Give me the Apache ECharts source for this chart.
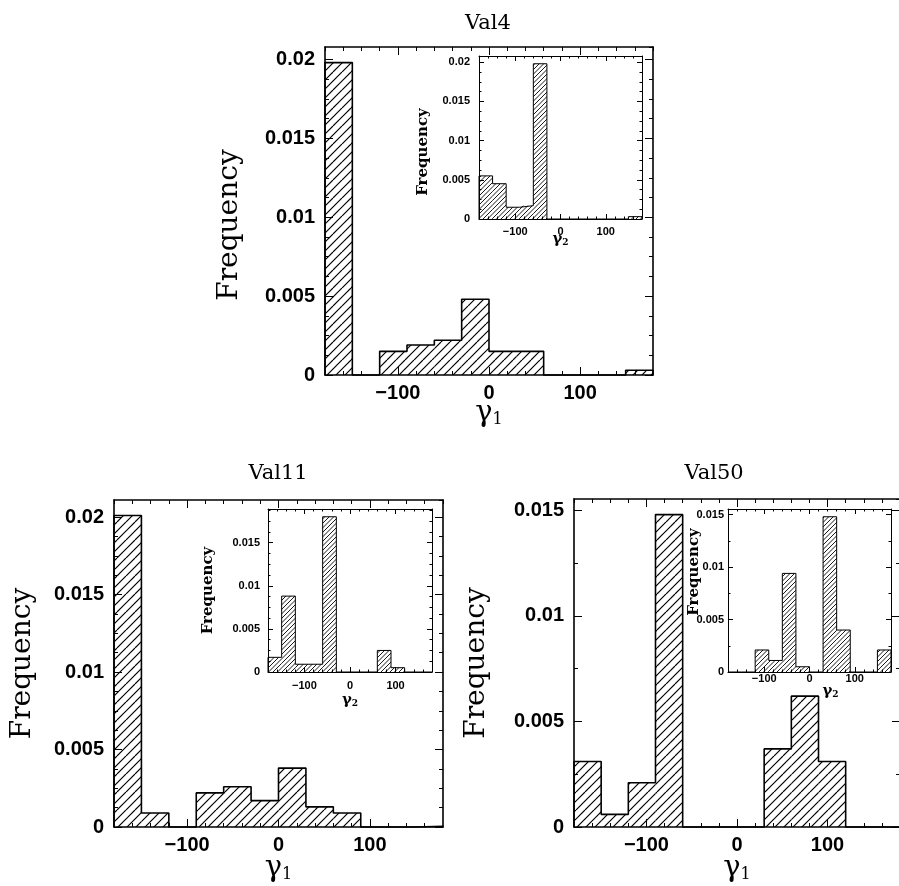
<!DOCTYPE html>
<html>
<head>
<meta charset="utf-8">
<script src="https://cdn.jsdelivr.net/npm/echarts@6/dist/echarts.min.js"></script>
<style>
  html, body { margin: 0; padding: 0; background: #fff; }
  #chart { width: 899px; height: 886px; }
</style>
</head>
<body>
<div id="chart"></div>
<script>
// 30 degree bins over the dihedral range
const binEdges = [-180, -150, -120, -90, -60, -30, 0, 30, 60, 90, 120, 150, 180];

// frequency per bin
const val4Gamma1 = [0.0198, 0, 0.0015, 0.0019, 0.0022, 0.0048, 0.0015, 0.0015, 0, 0, 0, 0.0003];
const val4Gamma2 = [0.0055, 0.0045, 0.0015, 0.0017, 0.0198, 0, 0, 0, 0, 0, 0, 0.0003];
const val11Gamma1 = [0.0201, 0.0009, 0, 0.0022, 0.0026, 0.0017, 0.0038, 0.0013, 0.0009, 0, 0, 0.00005];
const val11Gamma2 = [0.0017, 0.0088, 0.0009, 0.0009, 0.018, 0, 0, 0, 0.0025, 0.0005, 0, 0];
const val50Gamma1 = [0.0031, 0.0006, 0.0021, 0.0148, 0, 0, 0, 0.0037, 0.0062, 0.0031, 0, 0];
const val50Gamma2 = [0, 0, 0.0021, 0.0011, 0.0094, 0.0005, 0, 0.0148, 0.004, 0, 0, 0.0021];

const panelTitles = ['Val4', 'Val11', 'Val50'];
const xTickValues = [-100, 0, 100];
const yTickValues = [0, 0.005, 0.01, 0.015, 0.02];

// layout of the six plot boxes (3 main + 3 insets)
const panels = [
  { data: val4Gamma1, grid: [325, 47, 328, 328], main: true, yMinor: 0.00125,
    xGap: 24, yGap: 81, yPad: [0, 28, 0, 0], xPad: 0, xMargin: 8, yMargin: 10 },
  { data: val4Gamma2, grid: [479, 56, 163, 163], main: false, yMinor: 0.00125,
    xGap: 13, yGap: 48, yPad: [0, 29, 0, 0], xPad: 0, xMargin: 7, yMargin: 9 },
  { data: val11Gamma1, grid: [114, 500, 329, 327], main: true, yMinor: 0.00125,
    xGap: 27, yGap: 77, yPad: 0, xPad: 0, xMargin: 8, yMargin: 10 },
  { data: val11Gamma2, grid: [268, 509, 164, 163], main: false, yMinor: 0.00125,
    xGap: 21, yGap: 52, yPad: 0, xPad: 0, xMargin: 8, yMargin: 8 },
  { data: val50Gamma1, grid: [574, 499, 326, 328], main: true, yMinor: 0.0025,
    xGap: 27, yGap: 83, yPad: 0, xPad: 0, xMargin: 8, yMargin: 10 },
  { data: val50Gamma2, grid: [728, 509, 163, 163], main: false, yMinor: 0.0025,
    xGap: 12, yGap: 26, yPad: [0, 0, 0, 37], xPad: [0, 0, 0, 42], xMargin: 1, yMargin: 4 }
];
const titlePos = [[488, 24], [278, 474], [714, 474]];

function hatch(step, lw) {
  const t = step * 2;
  const c = document.createElement('canvas');
  c.width = c.height = t;
  const ctx = c.getContext('2d');
  ctx.strokeStyle = '#000';
  ctx.lineWidth = lw;
  ctx.beginPath();
  for (let k = 0; k <= 2 * t + 0.01; k += step) {
    ctx.moveTo(k, 0);
    ctx.lineTo(k - t, t);
  }
  ctx.stroke();
  return c;
}
const hatchMain = hatch(9, 1.2);
const hatchInset = hatch(4.5, 0.9);

function fmtX(v) { return v < 0 ? '\u2212' + (-v) : String(v); }
function fmtY(v) { return v === 0 ? '0' : String(parseFloat(v.toFixed(4))); }

const grids = [], xAxes = [], yAxes = [], series = [];

panels.forEach((p, i) => {
  const [l, t, w, h] = p.grid;
  grids.push({ left: l, top: t, width: w, height: h, containLabel: false, outerBoundsMode: 'none',
    show: !p.main, backgroundColor: '#fff', borderWidth: 0 });

  const lw = p.main ? 1.6 : 1;
  const minorLen = p.main ? 4 : 2.5;
  const majorLen = p.main ? 8 : 5;
  const font = p.main ? 20 : 11;
  const ymax = Math.max(...p.data) * 1.05;
  const line = { show: true, onZero: false, lineStyle: { color: '#000', width: lw } };
  const noLine = { show: false, onZero: false };
  const tick = (len, vals) => ({ show: true, inside: true, length: len, customValues: vals,
    lineStyle: { color: '#000', width: 1 } });
  const labelStyle = { fontFamily: 'Liberation Sans', fontWeight: 'bold', fontSize: font, color: '#000' };

  const xb = { gridIndex: i, type: 'value', min: -180, max: 180, interval: 20,
    splitLine: { show: false }, nameMoveOverlap: false };
  const xi = xAxes.length;
  xAxes.push(
    { ...xb, position: 'bottom', axisLine: line, axisTick: tick(minorLen),
      axisLabel: { ...labelStyle, margin: p.xMargin, showMinLabel: false, showMaxLabel: false,
        formatter: v => (v % 100 === 0 ? fmtX(v) : '') },
      name: p.main ? '{g|\u03b3}{s|1}' : '{g|\u03b3}{s|2}', nameLocation: 'middle', nameGap: p.xGap,
      nameTextStyle: { color: '#000', padding: p.xPad, rich: p.main ? {
        g: { fontFamily: 'DejaVu Serif', fontSize: 29, color: '#000' },
        s: { fontFamily: 'DejaVu Serif', fontSize: 16, color: '#000', verticalAlign: 'bottom' }
      } : {
        g: { fontFamily: 'DejaVu Serif', fontWeight: 'bold', fontSize: 15, color: '#000' },
        s: { fontFamily: 'DejaVu Serif', fontWeight: 'bold', fontSize: 9, color: '#000', verticalAlign: 'bottom' }
      } } },
    { ...xb, position: 'bottom', axisLine: noLine, axisTick: tick(majorLen, xTickValues), axisLabel: { show: false } },
    { ...xb, position: 'top', axisLine: line, axisTick: tick(minorLen), axisLabel: { show: false } },
    { ...xb, position: 'top', axisLine: noLine, axisTick: tick(majorLen, xTickValues), axisLabel: { show: false } }
  );

  const yVals = yTickValues.filter(v => v <= ymax);
  const yb = { gridIndex: i, type: 'value', min: 0, max: ymax, interval: p.yMinor,
    splitLine: { show: false }, nameMoveOverlap: false };
  const yi = yAxes.length;
  yAxes.push(
    { ...yb, position: 'left', axisLine: line, axisTick: tick(minorLen),
      axisLabel: { ...labelStyle, margin: p.yMargin, showMaxLabel: false,
        formatter: v => { const r = v / 0.005; return Math.abs(r - Math.round(r)) < 1e-6 ? fmtY(v) : ''; } },
      name: 'Frequency', nameLocation: 'middle', nameGap: p.yGap, nameRotate: 90,
      nameTextStyle: p.main
        ? { fontFamily: 'DejaVu Serif', fontSize: 28, color: '#000', padding: p.yPad }
        : { fontFamily: 'DejaVu Serif', fontWeight: 'bold', fontSize: 15, color: '#000', padding: p.yPad } },
    { ...yb, position: 'left', axisLine: noLine, axisTick: tick(majorLen, yVals), axisLabel: { show: false } },
    { ...yb, position: 'right', axisLine: line, axisTick: tick(minorLen), axisLabel: { show: false } },
    { ...yb, position: 'right', axisLine: noLine, axisTick: tick(majorLen, yVals), axisLabel: { show: false } }
  );

  const pat = { image: p.main ? hatchMain : hatchInset, repeat: 'repeat' };
  series.push({
    type: 'custom', xAxisIndex: xi, yAxisIndex: yi, silent: true, animation: false,
    data: p.data.map((v, k) => [binEdges[k], binEdges[k + 1], v]),
    encode: { x: [0, 1], y: 2 },
    renderItem: (params, api) => {
      const a = api.coord([api.value(0), api.value(2)]);
      const b = api.coord([api.value(1), 0]);
      return { type: 'rect', shape: { x: a[0], y: a[1], width: b[0] - a[0], height: b[1] - a[1] },
        style: { fill: pat } };
    }
  });

  // step outline of the histogram
  const outline = [[binEdges[0], 0]];
  p.data.forEach((v, k) => outline.push([binEdges[k], v]));
  outline.push([binEdges[binEdges.length - 1], p.data[p.data.length - 1]]);
  outline.push([binEdges[binEdges.length - 1], 0]);
  series.push({
    type: 'line', step: 'end', xAxisIndex: xi, yAxisIndex: yi, data: outline,
    symbol: 'none', clip: false, silent: true, animation: false,
    lineStyle: { color: '#000', width: lw }
  });
});

const chart = echarts.init(document.getElementById('chart'), null, { renderer: 'canvas' });
chart.setOption({
  backgroundColor: '#fff',
  animation: false,
  tooltip: { show: false },
  grid: grids,
  xAxis: xAxes,
  yAxis: yAxes,
  series: series,
  graphic: panelTitles.map((txt, i) => ({
    type: 'text', x: titlePos[i][0], y: titlePos[i][1], silent: true,
    style: { text: txt, fill: '#000', font: '21px "DejaVu Serif"', align: 'center', verticalAlign: 'middle' }
  }))
});
</script>
</body>
</html>
